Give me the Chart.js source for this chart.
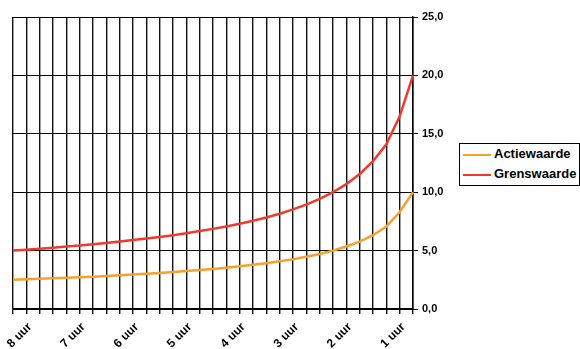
<!DOCTYPE html>
<html>
<head>
<meta charset="utf-8">
<script src="https://cdn.jsdelivr.net/npm/chart.js@4"></script>
<style>
  body { margin: 0; background: #fff; }
  #wrap { position: relative; width: 580px; height: 349px; }
  #legenda {
    position: absolute; left: 459px; top: 143px; width: 119px; height: 41px;
    border: 1px solid #000; background: #fff;
    font: bold 13px "Liberation Sans", Arial, sans-serif; color: #000;
  }
  .item { position: absolute; left: 3px; height: 16px; line-height: 16px; white-space: nowrap; }
  .item span.lijn { display: inline-block; width: 28px; height: 2px; vertical-align: middle; margin-right: 3px; }
</style>
</head>
<body>
<div id="wrap">
  <canvas id="grafiek" width="580" height="349"></canvas>
  <div id="legenda">
    <div class="item" style="top:2px"><span class="lijn" style="background:#f7a12c"></span>Actiewaarde</div>
    <div class="item" style="top:22px"><span class="lijn" style="background:#ef3b2c"></span>Grenswaarde</div>
  </div>
</div>
<script>
// blootstellingsduur, per kwartier van 8 uur tot een half uur
const tijden = ['8:00','7:45','7:30','7:15','7:00','6:45','6:30','6:15','6:00','5:45','5:30','5:15','5:00','4:45','4:30','4:15',
                '4:00','3:45','3:30','3:15','3:00','2:45','2:30','2:15','2:00','1:45','1:30','1:15','1:00','0:45','0:30'];
const uurLabels = ['8 uur','7 uur','6 uur','5 uur','4 uur','3 uur','2 uur','1 uur'];

const grenswaarde = [5.0, 5.08, 5.16, 5.25, 5.35, 5.44, 5.55, 5.66, 5.77, 5.9, 6.03, 6.17, 6.32, 6.49, 6.67, 6.86,
                     7.07, 7.3, 7.56, 7.84, 8.16, 8.53, 8.94, 9.43, 10.0, 10.69, 11.55, 12.65, 14.1, 16.5, 20.0];
const actiewaarde = [2.5, 2.54, 2.58, 2.63, 2.67, 2.72, 2.77, 2.83, 2.89, 2.95, 3.02, 3.09, 3.16, 3.25, 3.33, 3.43,
                     3.54, 3.65, 3.78, 3.92, 4.08, 4.26, 4.47, 4.71, 5.0, 5.35, 5.77, 6.32, 7.05, 8.3, 10.0];

const yTicks = [0, 5, 10, 15, 20, 25];

const font = { family: '"Liberation Sans", Arial, sans-serif', size: 11, weight: 'bold' };

new Chart(document.getElementById('grafiek'), {
  type: 'line',
  data: {
    labels: tijden,
    datasets: [
      { label: 'Actiewaarde', data: actiewaarde, borderColor: '#f7a12c', borderWidth: 2.5, pointRadius: 0, tension: 0 },
      { label: 'Grenswaarde', data: grenswaarde, borderColor: '#ef3b2c', borderWidth: 2.5, pointRadius: 0, tension: 0 }
    ]
  },
  options: {
    responsive: false,
    animation: false,
    layout: { padding: { left: 13, top: 17, right: 0, bottom: 0 } },
    plugins: { legend: { display: false }, tooltip: { enabled: false } },
    scales: {
      x: {
        offset: false,
        grid: { color: '#111', lineWidth: 1.4, tickLength: 5 },
        border: { color: '#000', width: 1.5 },
        ticks: {
          autoSkip: false, minRotation: 45, maxRotation: 45, padding: 6, labelOffset: 17,
          color: '#000', font: { family: font.family, size: 12, weight: 'bold' },
          callback: (v, i) => i % 4 === 0 ? uurLabels[i / 4] : ''
        },
        afterFit: s => { s.height = 40; s.paddingLeft = 0; s.paddingRight = 0; }
      },
      y: {
        position: 'right',
        min: 0, max: 25,
        afterBuildTicks: s => { s.ticks = yTicks.map(v => ({ value: v })); },
        grid: { color: '#000', lineWidth: 1, tickLength: 5 },
        border: { color: '#000', width: 1.5 },
        ticks: {
          padding: 4, color: '#000', font: font,
          callback: v => v.toFixed(1).replace('.', ',')
        },
        afterFit: s => { s.width = 167; s.paddingTop = 0; s.paddingBottom = 0; }
      }
    }
  }
});
</script>
</body>
</html>
